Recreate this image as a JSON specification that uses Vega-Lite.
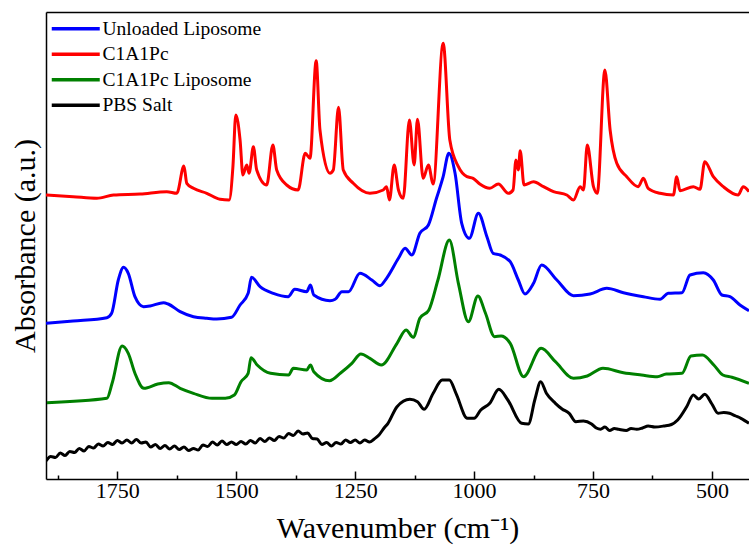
{
  "$schema": "https://vega.github.io/schema/vega-lite/v6.json",
  "width": 703,
  "height": 467,
  "autosize": {"type": "none"},
  "padding": {"left": 46, "top": 12, "right": 0, "bottom": 71},
  "background": "white",
  "config": {"view": {"stroke": null}, "font": "Liberation Serif"},
  "datasets": {
    "spectra": [
      {"sample":"PBS Salt","wn":1900,"abs":18},{"sample":"PBS Salt","wn":1890,"abs":22.5},{"sample":"PBS Salt","wn":1880,"abs":21.5},{"sample":"PBS Salt","wn":1870,"abs":26},{"sample":"PBS Salt","wn":1860,"abs":23.5},{"sample":"PBS Salt","wn":1850,"abs":27.5},{"sample":"PBS Salt","wn":1840,"abs":26.5},{"sample":"PBS Salt","wn":1830,"abs":30.5},{"sample":"PBS Salt","wn":1820,"abs":28},{"sample":"PBS Salt","wn":1810,"abs":32.5},{"sample":"PBS Salt","wn":1800,"abs":31},{"sample":"PBS Salt","wn":1790,"abs":35},{"sample":"PBS Salt","wn":1780,"abs":33},{"sample":"PBS Salt","wn":1770,"abs":36.5},{"sample":"PBS Salt","wn":1760,"abs":34.5},{"sample":"PBS Salt","wn":1750,"abs":38.5},{"sample":"PBS Salt","wn":1740,"abs":36},{"sample":"PBS Salt","wn":1730,"abs":39},{"sample":"PBS Salt","wn":1720,"abs":36},{"sample":"PBS Salt","wn":1710,"abs":39.5},{"sample":"PBS Salt","wn":1700,"abs":36},{"sample":"PBS Salt","wn":1690,"abs":37},{"sample":"PBS Salt","wn":1680,"abs":32},{"sample":"PBS Salt","wn":1670,"abs":34.5},{"sample":"PBS Salt","wn":1660,"abs":30.5},{"sample":"PBS Salt","wn":1650,"abs":33.5},{"sample":"PBS Salt","wn":1640,"abs":30},{"sample":"PBS Salt","wn":1630,"abs":33},{"sample":"PBS Salt","wn":1620,"abs":29.5},{"sample":"PBS Salt","wn":1610,"abs":32},{"sample":"PBS Salt","wn":1600,"abs":28.5},{"sample":"PBS Salt","wn":1590,"abs":30.5},{"sample":"PBS Salt","wn":1580,"abs":29},{"sample":"PBS Salt","wn":1570,"abs":34},{"sample":"PBS Salt","wn":1560,"abs":32.5},{"sample":"PBS Salt","wn":1550,"abs":37},{"sample":"PBS Salt","wn":1540,"abs":34},{"sample":"PBS Salt","wn":1530,"abs":38},{"sample":"PBS Salt","wn":1520,"abs":34.5},{"sample":"PBS Salt","wn":1510,"abs":37},{"sample":"PBS Salt","wn":1500,"abs":34.5},{"sample":"PBS Salt","wn":1490,"abs":37.5},{"sample":"PBS Salt","wn":1480,"abs":35},{"sample":"PBS Salt","wn":1470,"abs":38.5},{"sample":"PBS Salt","wn":1460,"abs":36},{"sample":"PBS Salt","wn":1450,"abs":40.5},{"sample":"PBS Salt","wn":1440,"abs":37.5},{"sample":"PBS Salt","wn":1430,"abs":41},{"sample":"PBS Salt","wn":1420,"abs":38.5},{"sample":"PBS Salt","wn":1410,"abs":42.5},{"sample":"PBS Salt","wn":1400,"abs":41},{"sample":"PBS Salt","wn":1390,"abs":45.5},{"sample":"PBS Salt","wn":1380,"abs":43.5},{"sample":"PBS Salt","wn":1370,"abs":48},{"sample":"PBS Salt","wn":1360,"abs":45},{"sample":"PBS Salt","wn":1350,"abs":46},{"sample":"PBS Salt","wn":1340,"abs":40.5},{"sample":"PBS Salt","wn":1330,"abs":40},{"sample":"PBS Salt","wn":1320,"abs":34.5},{"sample":"PBS Salt","wn":1310,"abs":36.5},{"sample":"PBS Salt","wn":1300,"abs":33},{"sample":"PBS Salt","wn":1290,"abs":36.5},{"sample":"PBS Salt","wn":1280,"abs":35},{"sample":"PBS Salt","wn":1270,"abs":39},{"sample":"PBS Salt","wn":1260,"abs":36.5},{"sample":"PBS Salt","wn":1250,"abs":39},{"sample":"PBS Salt","wn":1240,"abs":36},{"sample":"PBS Salt","wn":1230,"abs":39},{"sample":"PBS Salt","wn":1220,"abs":37},{"sample":"PBS Salt","wn":1210,"abs":40},{"sample":"PBS Salt","wn":1200,"abs":44},{"sample":"PBS Salt","wn":1190,"abs":50.5},{"sample":"PBS Salt","wn":1181,"abs":55.7},{"sample":"PBS Salt","wn":1162,"abs":72.3},{"sample":"PBS Salt","wn":1135,"abs":79.7},{"sample":"PBS Salt","wn":1119,"abs":77.3},{"sample":"PBS Salt","wn":1105,"abs":69.7},{"sample":"PBS Salt","wn":1086,"abs":85.7},{"sample":"PBS Salt","wn":1067,"abs":99},{"sample":"PBS Salt","wn":1052,"abs":99},{"sample":"PBS Salt","wn":1038,"abs":85.7},{"sample":"PBS Salt","wn":1014,"abs":60.7},{"sample":"PBS Salt","wn":1000,"abs":60.7},{"sample":"PBS Salt","wn":986,"abs":69},{"sample":"PBS Salt","wn":967,"abs":75.7},{"sample":"PBS Salt","wn":948,"abs":89.7},{"sample":"PBS Salt","wn":929,"abs":79},{"sample":"PBS Salt","wn":900,"abs":55.7},{"sample":"PBS Salt","wn":886,"abs":55},{"sample":"PBS Salt","wn":872,"abs":79.7},{"sample":"PBS Salt","wn":860,"abs":97.3},{"sample":"PBS Salt","wn":848,"abs":85.7},{"sample":"PBS Salt","wn":829,"abs":75.7},{"sample":"PBS Salt","wn":815,"abs":70},{"sample":"PBS Salt","wn":800,"abs":65.7},{"sample":"PBS Salt","wn":786,"abs":57.3},{"sample":"PBS Salt","wn":770,"abs":58},{"sample":"PBS Salt","wn":753,"abs":55},{"sample":"PBS Salt","wn":743,"abs":51},{"sample":"PBS Salt","wn":734,"abs":49.7},{"sample":"PBS Salt","wn":725,"abs":52},{"sample":"PBS Salt","wn":715,"abs":48.5},{"sample":"PBS Salt","wn":705,"abs":50.5},{"sample":"PBS Salt","wn":696,"abs":49.7},{"sample":"PBS Salt","wn":680,"abs":48.5},{"sample":"PBS Salt","wn":670,"abs":50.5},{"sample":"PBS Salt","wn":658,"abs":49.7},{"sample":"PBS Salt","wn":646,"abs":51},{"sample":"PBS Salt","wn":634,"abs":53},{"sample":"PBS Salt","wn":620,"abs":52},{"sample":"PBS Salt","wn":601,"abs":53},{"sample":"PBS Salt","wn":585,"abs":54.5},{"sample":"PBS Salt","wn":572,"abs":59},{"sample":"PBS Salt","wn":553,"abs":72.3},{"sample":"PBS Salt","wn":539,"abs":84},{"sample":"PBS Salt","wn":528,"abs":80},{"sample":"PBS Salt","wn":515,"abs":84.7},{"sample":"PBS Salt","wn":500,"abs":75},{"sample":"PBS Salt","wn":487,"abs":65.7},{"sample":"PBS Salt","wn":475,"abs":66.5},{"sample":"PBS Salt","wn":463,"abs":65.7},{"sample":"PBS Salt","wn":450,"abs":63},{"sample":"PBS Salt","wn":439,"abs":60.7},{"sample":"PBS Salt","wn":422,"abs":55.7},

      {"sample":"C1A1Pc Liposome","wn":1898,"abs":76.3},{"sample":"C1A1Pc Liposome","wn":1772,"abs":80.7},{"sample":"C1A1Pc Liposome","wn":1761,"abs":95.7},{"sample":"C1A1Pc Liposome","wn":1740,"abs":133},{"sample":"C1A1Pc Liposome","wn":1727,"abs":125.7},{"sample":"C1A1Pc Liposome","wn":1713,"abs":105.7},{"sample":"C1A1Pc Liposome","wn":1694,"abs":90.7},{"sample":"C1A1Pc Liposome","wn":1665,"abs":95},{"sample":"C1A1Pc Liposome","wn":1642,"abs":96.3},{"sample":"C1A1Pc Liposome","wn":1618,"abs":90.7},{"sample":"C1A1Pc Liposome","wn":1590,"abs":85.7},{"sample":"C1A1Pc Liposome","wn":1551,"abs":80.7},{"sample":"C1A1Pc Liposome","wn":1523,"abs":80.7},{"sample":"C1A1Pc Liposome","wn":1504,"abs":84},{"sample":"C1A1Pc Liposome","wn":1490,"abs":97.3},{"sample":"C1A1Pc Liposome","wn":1475,"abs":105.7},{"sample":"C1A1Pc Liposome","wn":1469,"abs":121.3},{"sample":"C1A1Pc Liposome","wn":1456,"abs":114},{"sample":"C1A1Pc Liposome","wn":1428,"abs":105.7},{"sample":"C1A1Pc Liposome","wn":1390,"abs":104},{"sample":"C1A1Pc Liposome","wn":1380,"abs":110.7},{"sample":"C1A1Pc Liposome","wn":1352,"abs":109},{"sample":"C1A1Pc Liposome","wn":1344,"abs":114},{"sample":"C1A1Pc Liposome","wn":1337,"abs":107.3},{"sample":"C1A1Pc Liposome","wn":1304,"abs":98.3},{"sample":"C1A1Pc Liposome","wn":1280,"abs":106.3},{"sample":"C1A1Pc Liposome","wn":1257,"abs":115.7},{"sample":"C1A1Pc Liposome","wn":1238,"abs":125},{"sample":"C1A1Pc Liposome","wn":1219,"abs":120.7},{"sample":"C1A1Pc Liposome","wn":1195,"abs":114},{"sample":"C1A1Pc Liposome","wn":1162,"abs":135.7},{"sample":"C1A1Pc Liposome","wn":1143,"abs":149},{"sample":"C1A1Pc Liposome","wn":1128,"abs":141.7},{"sample":"C1A1Pc Liposome","wn":1114,"abs":160.7},{"sample":"C1A1Pc Liposome","wn":1095,"abs":169},{"sample":"C1A1Pc Liposome","wn":1076,"abs":199},{"sample":"C1A1Pc Liposome","wn":1052,"abs":239},{"sample":"C1A1Pc Liposome","wn":1033,"abs":195.7},{"sample":"C1A1Pc Liposome","wn":1012,"abs":157.3},{"sample":"C1A1Pc Liposome","wn":992,"abs":183},{"sample":"C1A1Pc Liposome","wn":976,"abs":165.7},{"sample":"C1A1Pc Liposome","wn":957,"abs":142.3},{"sample":"C1A1Pc Liposome","wn":943,"abs":143},{"sample":"C1A1Pc Liposome","wn":924,"abs":135.7},{"sample":"C1A1Pc Liposome","wn":896,"abs":102.3},{"sample":"C1A1Pc Liposome","wn":859,"abs":130.7},{"sample":"C1A1Pc Liposome","wn":829,"abs":117.3},{"sample":"C1A1Pc Liposome","wn":791,"abs":100.7},{"sample":"C1A1Pc Liposome","wn":762,"abs":103},{"sample":"C1A1Pc Liposome","wn":729,"abs":110.7},{"sample":"C1A1Pc Liposome","wn":686,"abs":106.3},{"sample":"C1A1Pc Liposome","wn":648,"abs":104},{"sample":"C1A1Pc Liposome","wn":615,"abs":102.3},{"sample":"C1A1Pc Liposome","wn":596,"abs":105},{"sample":"C1A1Pc Liposome","wn":563,"abs":105.7},{"sample":"C1A1Pc Liposome","wn":544,"abs":123},{"sample":"C1A1Pc Liposome","wn":520,"abs":124},{"sample":"C1A1Pc Liposome","wn":496,"abs":114},{"sample":"C1A1Pc Liposome","wn":477,"abs":104},{"sample":"C1A1Pc Liposome","wn":458,"abs":101.7},{"sample":"C1A1Pc Liposome","wn":422,"abs":95.7},

      {"sample":"Unloaded Liposome","wn":1900,"abs":155.7},{"sample":"Unloaded Liposome","wn":1843,"abs":158},{"sample":"Unloaded Liposome","wn":1772,"abs":161.3},{"sample":"Unloaded Liposome","wn":1762,"abs":165.7},{"sample":"Unloaded Liposome","wn":1748,"abs":199},{"sample":"Unloaded Liposome","wn":1737,"abs":211.7},{"sample":"Unloaded Liposome","wn":1727,"abs":205.7},{"sample":"Unloaded Liposome","wn":1713,"abs":182.3},{"sample":"Unloaded Liposome","wn":1695,"abs":172.3},{"sample":"Unloaded Liposome","wn":1681,"abs":173},{"sample":"Unloaded Liposome","wn":1653,"abs":176.3},{"sample":"Unloaded Liposome","wn":1643,"abs":175},{"sample":"Unloaded Liposome","wn":1618,"abs":167.3},{"sample":"Unloaded Liposome","wn":1590,"abs":162.3},{"sample":"Unloaded Liposome","wn":1562,"abs":160.7},{"sample":"Unloaded Liposome","wn":1541,"abs":160},{"sample":"Unloaded Liposome","wn":1510,"abs":161.7},{"sample":"Unloaded Liposome","wn":1492,"abs":174},{"sample":"Unloaded Liposome","wn":1475,"abs":185.7},{"sample":"Unloaded Liposome","wn":1468,"abs":201.7},{"sample":"Unloaded Liposome","wn":1450,"abs":192.3},{"sample":"Unloaded Liposome","wn":1422,"abs":185.7},{"sample":"Unloaded Liposome","wn":1391,"abs":182.3},{"sample":"Unloaded Liposome","wn":1377,"abs":189.7},{"sample":"Unloaded Liposome","wn":1352,"abs":187.3},{"sample":"Unloaded Liposome","wn":1344,"abs":194},{"sample":"Unloaded Liposome","wn":1337,"abs":184},{"sample":"Unloaded Liposome","wn":1303,"abs":178.3},{"sample":"Unloaded Liposome","wn":1292,"abs":179.7},{"sample":"Unloaded Liposome","wn":1278,"abs":187.3},{"sample":"Unloaded Liposome","wn":1264,"abs":187.3},{"sample":"Unloaded Liposome","wn":1240,"abs":205.7},{"sample":"Unloaded Liposome","wn":1215,"abs":199},{"sample":"Unloaded Liposome","wn":1198,"abs":193.3},{"sample":"Unloaded Liposome","wn":1184,"abs":200.7},{"sample":"Unloaded Liposome","wn":1159,"abs":220.7},{"sample":"Unloaded Liposome","wn":1145,"abs":230.7},{"sample":"Unloaded Liposome","wn":1131,"abs":224},{"sample":"Unloaded Liposome","wn":1114,"abs":245.7},{"sample":"Unloaded Liposome","wn":1096,"abs":254},{"sample":"Unloaded Liposome","wn":1079,"abs":280.7},{"sample":"Unloaded Liposome","wn":1065,"abs":302.3},{"sample":"Unloaded Liposome","wn":1053,"abs":325.7},{"sample":"Unloaded Liposome","wn":1040,"abs":305.7},{"sample":"Unloaded Liposome","wn":1026,"abs":255.7},{"sample":"Unloaded Liposome","wn":1010,"abs":240.7},{"sample":"Unloaded Liposome","wn":991,"abs":265.7},{"sample":"Unloaded Liposome","wn":973,"abs":242.3},{"sample":"Unloaded Liposome","wn":960,"abs":225.7},{"sample":"Unloaded Liposome","wn":945,"abs":224},{"sample":"Unloaded Liposome","wn":924,"abs":217.3},{"sample":"Unloaded Liposome","wn":907,"abs":199},{"sample":"Unloaded Liposome","wn":893,"abs":185},{"sample":"Unloaded Liposome","wn":875,"abs":195.7},{"sample":"Unloaded Liposome","wn":858,"abs":214},{"sample":"Unloaded Liposome","wn":826,"abs":199},{"sample":"Unloaded Liposome","wn":791,"abs":183.3},{"sample":"Unloaded Liposome","wn":756,"abs":185},{"sample":"Unloaded Liposome","wn":721,"abs":190.7},{"sample":"Unloaded Liposome","wn":686,"abs":186.3},{"sample":"Unloaded Liposome","wn":644,"abs":182.3},{"sample":"Unloaded Liposome","wn":609,"abs":179.7},{"sample":"Unloaded Liposome","wn":592,"abs":185.7},{"sample":"Unloaded Liposome","wn":563,"abs":186.3},{"sample":"Unloaded Liposome","wn":546,"abs":204},{"sample":"Unloaded Liposome","wn":518,"abs":206.3},{"sample":"Unloaded Liposome","wn":497,"abs":199},{"sample":"Unloaded Liposome","wn":479,"abs":184},{"sample":"Unloaded Liposome","wn":462,"abs":182.3},{"sample":"Unloaded Liposome","wn":441,"abs":174},{"sample":"Unloaded Liposome","wn":422,"abs":168.3},

      {"sample":"C1A1Pc","wn":1900,"abs":284},{"sample":"C1A1Pc","wn":1843,"abs":282.3},{"sample":"C1A1Pc","wn":1793,"abs":280.7},{"sample":"C1A1Pc","wn":1758,"abs":284},{"sample":"C1A1Pc","wn":1702,"abs":285},{"sample":"C1A1Pc","wn":1646,"abs":287.3},{"sample":"C1A1Pc","wn":1625,"abs":285.7},{"sample":"C1A1Pc","wn":1610,"abs":313},{"sample":"C1A1Pc","wn":1604,"abs":295.7},{"sample":"C1A1Pc","wn":1590,"abs":290.7},{"sample":"C1A1Pc","wn":1562,"abs":285.7},{"sample":"C1A1Pc","wn":1534,"abs":279.7},{"sample":"C1A1Pc","wn":1515,"abs":279},{"sample":"C1A1Pc","wn":1507,"abs":312.3},{"sample":"C1A1Pc","wn":1501,"abs":364},{"sample":"C1A1Pc","wn":1492,"abs":339},{"sample":"C1A1Pc","wn":1486,"abs":304},{"sample":"C1A1Pc","wn":1478,"abs":314},{"sample":"C1A1Pc","wn":1473,"abs":305.7},{"sample":"C1A1Pc","wn":1464,"abs":332.3},{"sample":"C1A1Pc","wn":1457,"abs":309},{"sample":"C1A1Pc","wn":1436,"abs":294},{"sample":"C1A1Pc","wn":1423,"abs":334},{"sample":"C1A1Pc","wn":1415,"abs":309},{"sample":"C1A1Pc","wn":1394,"abs":294},{"sample":"C1A1Pc","wn":1370,"abs":289},{"sample":"C1A1Pc","wn":1355,"abs":325.7},{"sample":"C1A1Pc","wn":1345,"abs":320.7},{"sample":"C1A1Pc","wn":1332,"abs":418.3},{"sample":"C1A1Pc","wn":1324,"abs":349},{"sample":"C1A1Pc","wn":1303,"abs":305.7},{"sample":"C1A1Pc","wn":1296,"abs":309},{"sample":"C1A1Pc","wn":1285,"abs":371.7},{"sample":"C1A1Pc","wn":1275,"abs":309},{"sample":"C1A1Pc","wn":1254,"abs":295.7},{"sample":"C1A1Pc","wn":1219,"abs":285.7},{"sample":"C1A1Pc","wn":1191,"abs":289},{"sample":"C1A1Pc","wn":1184,"abs":292.3},{"sample":"C1A1Pc","wn":1178,"abs":279},{"sample":"C1A1Pc","wn":1168,"abs":314},{"sample":"C1A1Pc","wn":1159,"abs":289},{"sample":"C1A1Pc","wn":1149,"abs":280.7},{"sample":"C1A1Pc","wn":1136,"abs":359},{"sample":"C1A1Pc","wn":1126,"abs":314},{"sample":"C1A1Pc","wn":1119,"abs":359.7},{"sample":"C1A1Pc","wn":1107,"abs":300.7},{"sample":"C1A1Pc","wn":1096,"abs":314},{"sample":"C1A1Pc","wn":1086,"abs":295},{"sample":"C1A1Pc","wn":1065,"abs":435.7},{"sample":"C1A1Pc","wn":1051,"abs":339},{"sample":"C1A1Pc","wn":1033,"abs":312.3},{"sample":"C1A1Pc","wn":1015,"abs":302.3},{"sample":"C1A1Pc","wn":1002,"abs":300.7},{"sample":"C1A1Pc","wn":988,"abs":295},{"sample":"C1A1Pc","wn":967,"abs":290.7},{"sample":"C1A1Pc","wn":949,"abs":295},{"sample":"C1A1Pc","wn":928,"abs":285.7},{"sample":"C1A1Pc","wn":918,"abs":289},{"sample":"C1A1Pc","wn":912,"abs":319},{"sample":"C1A1Pc","wn":907,"abs":309},{"sample":"C1A1Pc","wn":903,"abs":328.3},{"sample":"C1A1Pc","wn":895,"abs":294},{"sample":"C1A1Pc","wn":875,"abs":297.3},{"sample":"C1A1Pc","wn":854,"abs":292.3},{"sample":"C1A1Pc","wn":833,"abs":287.3},{"sample":"C1A1Pc","wn":805,"abs":284},{"sample":"C1A1Pc","wn":791,"abs":279},{"sample":"C1A1Pc","wn":777,"abs":292.3},{"sample":"C1A1Pc","wn":770,"abs":289},{"sample":"C1A1Pc","wn":762,"abs":334},{"sample":"C1A1Pc","wn":749,"abs":292.3},{"sample":"C1A1Pc","wn":741,"abs":285.7},{"sample":"C1A1Pc","wn":725,"abs":409},{"sample":"C1A1Pc","wn":714,"abs":349},{"sample":"C1A1Pc","wn":700,"abs":315.7},{"sample":"C1A1Pc","wn":679,"abs":302.3},{"sample":"C1A1Pc","wn":655,"abs":292.3},{"sample":"C1A1Pc","wn":644,"abs":300.7},{"sample":"C1A1Pc","wn":634,"abs":290.7},{"sample":"C1A1Pc","wn":609,"abs":285.7},{"sample":"C1A1Pc","wn":581,"abs":284},{"sample":"C1A1Pc","wn":574,"abs":302.3},{"sample":"C1A1Pc","wn":567,"abs":288.3},{"sample":"C1A1Pc","wn":539,"abs":292.3},{"sample":"C1A1Pc","wn":525,"abs":289.7},{"sample":"C1A1Pc","wn":515,"abs":317.3},{"sample":"C1A1Pc","wn":497,"abs":302.3},{"sample":"C1A1Pc","wn":476,"abs":292.3},{"sample":"C1A1Pc","wn":445,"abs":284},{"sample":"C1A1Pc","wn":434,"abs":292.3},{"sample":"C1A1Pc","wn":422,"abs":287.3}
    ]
  },
  "data": {"name": "spectra"},
  "layer": [
    {
      "mark": {"type": "line", "strokeWidth": 3, "clip": true, "strokeJoin": "round", "interpolate": "monotone"},
      "encoding": {
        "x": {
          "field": "wn", "type": "quantitative",
          "scale": {"domain": [422, 1900], "reverse": true, "nice": false, "zero": false},
          "axis": {
            "orient": "bottom",
            "values": [1875, 1750, 1625, 1500, 1375, 1250, 1125, 1000, 875, 750, 625, 500],
            "labelExpr": "datum.value % 250 === 0 ? format(datum.value, 'd') : ''",
            "tickSize": {"condition": {"test": "datum.value % 250 === 0", "value": -8}, "value": -4},
            "tickColor": "black", "tickWidth": 1.5,
            "domainColor": "black", "domainWidth": 1.5,
            "grid": false,
            "labelFont": "Liberation Serif", "labelFontSize": 22, "labelColor": "black",
            "labelPadding": 9,
            "title": "Wavenumber (cm⁻¹)",
            "titleFont": "Liberation Serif", "titleFontSize": 30, "titleFontWeight": "normal", "titleColor": "black",
            "titlePadding": 12
          }
        },
        "y": {
          "field": "abs", "type": "quantitative",
          "scale": {"domain": [0, 467], "nice": false, "zero": false},
          "axis": {
            "labels": false, "ticks": false, "grid": false,
            "domainColor": "black", "domainWidth": 1.5,
            "title": "Absorbance (a.u.)",
            "titleFont": "Liberation Serif", "titleFontSize": 30, "titleFontWeight": "normal", "titleColor": "black",
            "titlePadding": 6
          }
        },
        "color": {
          "field": "sample", "type": "nominal",
          "scale": {"domain": ["Unloaded Liposome", "C1A1Pc", "C1A1Pc Liposome", "PBS Salt"], "range": ["#0000ff", "#ff0000", "#008000", "#000000"]},
          "legend": {
            "orient": "none", "legendX": 2, "legendY": 7, "title": null,
            "symbolType": "M-1,0H7", "symbolSize": 144, "symbolStrokeWidth": 3.5,
            "labelFont": "Liberation Serif", "labelFontSize": 19.5, "labelColor": "black",
            "labelOffset": 35, "rowPadding": 4.5, "padding": 0
          }
        }
      }
    },
    {
      "mark": {"type": "line", "opacity": 0},
      "encoding": {
        "x": {
          "field": "wn", "type": "quantitative",
          "axis": {"orient": "top", "labels": false, "ticks": false, "grid": false, "title": null, "domainColor": "black", "domainWidth": 1.5}
        }
      }
    }
  ],
  "resolve": {"axis": {"x": "independent"}}
}
